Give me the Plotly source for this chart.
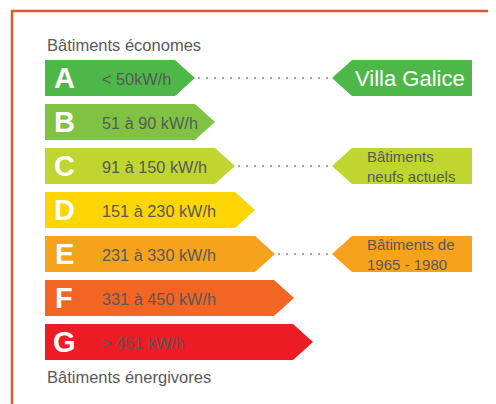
import plotly.graph_objects as go

# ---- data ----
grades = ["A", "B", "C", "D", "E", "F", "G"]
ranges = ["< 50kW/h", "51 à 90 kW/h", "91 à 150 kW/h", "151 à 230 kW/h",
          "231 à 330 kW/h", "331 à 450 kW/h", "> 451 kW/h"]
bar_lengths = [150, 170, 190, 210, 230, 249, 268]
colors = ["#4db848", "#80c342", "#bed62f", "#fdd500", "#f6a21d", "#f26522", "#ed1c24"]
marker_labels = ["Villa Galice", "Bâtiments<br>neufs actuels", "Bâtiments de<br>1965 - 1980"]
marker_grades = ["A", "C", "E"]
top_label = "Bâtiments économes"
bottom_label = "Bâtiments énergivores"

# ---- layout constants (axis units == screen pixels) ----
W, H = 496, 404
PAGE = 8          # default page margin of the html body
X0 = 45
ROW0 = 60
STEP = 44
BH = 36
TIP = 20
LBL_TIP = 332
LBL_BODY = 352
LBL_END = 472
TXT = "#58595b"
FONT = "Liberation Sans, Arial, Helvetica, sans-serif"
BORDER = "#e1582d"

fig = go.Figure()
ann = []

for i, (g, r, L, c) in enumerate(zip(grades, ranges, bar_lengths, colors)):
    y0 = ROW0 + STEP * i
    y1 = y0 + BH
    ym = (y0 + y1) / 2
    tip = X0 + L
    fig.add_trace(go.Scatter(
        x=[X0, tip - TIP, tip, tip - TIP, X0, X0],
        y=[y0, y0, ym, y1, y1, y0],
        mode="lines", fill="toself", fillcolor=c,
        line=dict(width=0, color=c), hoverinfo="skip", showlegend=False))
    ann.append(dict(x=X0 + 19, y=ym - 0.5, text=f"<b>{g}</b>", showarrow=False,
                    xanchor="center", yanchor="middle",
                    font=dict(family=FONT, size=29, color="white")))
    ann.append(dict(x=100, y=ym + 0.5, text=r, showarrow=False,
                    xanchor="left", yanchor="middle",
                    font=dict(family=FONT, size=16.3, color=TXT)))

for lbl, g in zip(marker_labels, marker_grades):
    i = grades.index(g)
    y0 = ROW0 + STEP * i
    y1 = y0 + BH
    ym = (y0 + y1) / 2
    c = colors[i]
    tip = X0 + bar_lengths[i]
    # dotted leader
    fig.add_trace(go.Scatter(
        x=[tip + 3, LBL_TIP - 2], y=[ym, ym], mode="lines",
        line=dict(color="#a7a9ac", width=2, dash="2px,6px"),
        hoverinfo="skip", showlegend=False))
    # label box (arrow pointing left)
    fig.add_trace(go.Scatter(
        x=[LBL_TIP, LBL_BODY, LBL_END, LBL_END, LBL_BODY, LBL_TIP],
        y=[ym, y0, y0, y1, y1, ym],
        mode="lines", fill="toself", fillcolor=c,
        line=dict(width=0, color=c), hoverinfo="skip", showlegend=False))
    if "<br>" not in lbl:
        ann.append(dict(x=LBL_BODY + 0.5, y=ym + 0.5, text=lbl, showarrow=False,
                        xanchor="left", yanchor="middle",
                        font=dict(family=FONT, size=22, color="white")))
    else:
        ann.append(dict(x=LBL_BODY + 13, y=ym + 0.5, text=lbl, align="left",
                        showarrow=False, xanchor="left", yanchor="middle",
                        font=dict(family=FONT, size=15, color=TXT)))

ann.append(dict(x=X0, y=45, text=top_label, showarrow=False, xanchor="left",
                yanchor="middle", font=dict(family=FONT, size=16.5, color=TXT)))
ann.append(dict(x=X0, y=377, text=bottom_label, showarrow=False, xanchor="left",
                yanchor="middle", font=dict(family=FONT, size=16.5, color=TXT)))

shapes = [
    dict(type="line", xref="x", yref="y", x0=11, x1=W + 2, y0=11, y1=11,
         line=dict(color=BORDER, width=2.5)),
    dict(type="line", xref="x", yref="y", x0=12, x1=12, y0=10, y1=H + 2,
         line=dict(color=BORDER, width=2.5)),
]

fig.update_layout(
    width=W - PAGE, height=H - PAGE, margin=dict(l=0, r=0, t=0, b=0),
    paper_bgcolor="white", plot_bgcolor="white",
    xaxis=dict(range=[PAGE, W], visible=False, fixedrange=True),
    yaxis=dict(range=[H, PAGE], visible=False, fixedrange=True),
    annotations=ann, shapes=shapes, hovermode=False,
)

fig.write_html("out.html", config={"displayModeBar": False})
